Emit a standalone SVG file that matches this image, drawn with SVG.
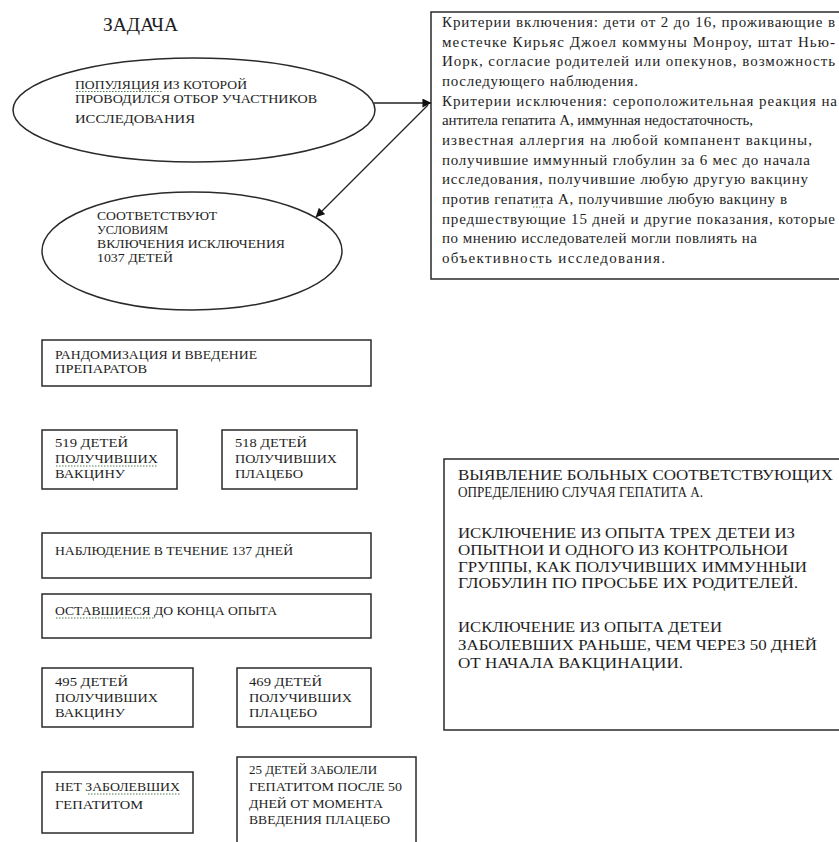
<svg xmlns="http://www.w3.org/2000/svg" width="839" height="842" viewBox="0 0 839 842">
<style>
.bg{fill:#ffffff}
.shape{fill:#ffffff;stroke:#2a2a2a;stroke-width:1.5}
.t{font-family:"Liberation Serif","Times New Roman",serif;fill:#1e1e1e}
.s{font-size:13px}
.m{font-size:15px}
.r{font-size:15px}
.title{font-size:18px}
.conn{stroke:#222222;stroke-width:1.3;fill:none}
.sq{stroke:#4d7d4d;stroke-width:1;stroke-dasharray:1.5 1.5;fill:none}
</style>
<defs>
<marker id="ah" viewBox="0 0 10 10" refX="9.5" refY="5" markerWidth="9" markerHeight="9" markerUnits="userSpaceOnUse" orient="auto">
<path d="M0,0 L10,5 L0,10 Z" fill="#111111"/>
</marker>
</defs>
<rect class="bg" x="0" y="0" width="839" height="842"/>

<text class="t title" x="103" y="31" textLength="75" lengthAdjust="spacingAndGlyphs">ЗАДАЧА</text>

<g id="population">
<ellipse class="shape" cx="194" cy="110" rx="181" ry="52"/>
<text class="t s" style="font-size:12.5px" x="75" y="88.5" textLength="172" lengthAdjust="spacingAndGlyphs">ПОПУЛЯЦИЯ ИЗ КОТОРОЙ</text>
<text class="t s" style="font-size:12.5px" x="75" y="103" textLength="242" lengthAdjust="spacingAndGlyphs">ПРОВОДИЛСЯ ОТБОР УЧАСТНИКОВ</text>
<text class="t s" x="75" y="123" textLength="120" lengthAdjust="spacingAndGlyphs">ИССЛЕДОВАНИЯ</text>
<path class="sq" d="M76,91.5 H162"/>
</g>

<g id="criteria">
<rect class="shape" x="431" y="12" width="420" height="267"/>
<text class="t m" x="442" y="27" textLength="393" lengthAdjust="spacing">Критерии включения: дети от 2 до 16, проживающие в</text>
<text class="t m" x="442" y="46.7" textLength="393" lengthAdjust="spacing">местечке Кирьяс Джоел коммуны Монроу, штат Нью-</text>
<text class="t m" x="442" y="66.3" textLength="393" lengthAdjust="spacing">Иорк, согласие родителей или опекунов, возможность</text>
<text class="t m" x="442" y="86" textLength="196" lengthAdjust="spacing">последующего наблюдения.</text>
<text class="t m" x="442" y="105.7" textLength="395" lengthAdjust="spacing">Критерии исключения: сероположительная реакция на</text>
<text class="t m" x="442" y="125.3" textLength="311" lengthAdjust="spacing">антитела гепатита А, иммунная недостаточность,</text>
<text class="t m" x="442" y="145" textLength="370" lengthAdjust="spacing">известная аллергия на любой компанент вакцины,</text>
<text class="t m" x="442" y="164.7" textLength="368" lengthAdjust="spacing">получившие иммунный глобулин за 6 мес до начала</text>
<text class="t m" x="442" y="184.3" textLength="366" lengthAdjust="spacing">исследования, получившие любую другую вакцину</text>
<text class="t m" x="442" y="204" textLength="345" lengthAdjust="spacing">против гепатита А, получившие любую вакцину в</text>
<text class="t m" x="442" y="223.7" textLength="393" lengthAdjust="spacing">предшествующие 15 дней и другие показания, которые</text>
<text class="t m" x="442" y="243.3" textLength="315" lengthAdjust="spacing">по мнению исследователей могли повлиять на</text>
<text class="t m" x="442" y="263" textLength="223" lengthAdjust="spacing">объективность исследования.</text>
<path class="sq" d="M533,207 H543"/>
</g>

<g id="eligible">
<ellipse class="shape" cx="192" cy="251" rx="150" ry="59"/>
<text class="t s" x="97" y="220" textLength="120" lengthAdjust="spacingAndGlyphs">СООТВЕТСТВУЮТ</text>
<text class="t s" x="97" y="234" textLength="71" lengthAdjust="spacingAndGlyphs">УСЛОВИЯМ</text>
<text class="t s" x="97" y="248" textLength="188" lengthAdjust="spacingAndGlyphs">ВКЛЮЧЕНИЯ ИСКЛЮЧЕНИЯ</text>
<text class="t s" x="97" y="262" textLength="76" lengthAdjust="spacingAndGlyphs">1037 ДЕТЕЙ</text>
</g>

<g id="randomization">
<rect class="shape" x="42" y="340" width="329" height="46"/>
<text class="t s" x="55" y="358.5" textLength="202" lengthAdjust="spacingAndGlyphs">РАНДОМИЗАЦИЯ И ВВЕДЕНИЕ</text>
<text class="t s" x="55" y="372.5" textLength="92" lengthAdjust="spacingAndGlyphs">ПРЕПАРАТОВ</text>
</g>

<g id="vaccine519">
<rect class="shape" x="42" y="430" width="135" height="59"/>
<text class="t s" x="55" y="447" textLength="73" lengthAdjust="spacingAndGlyphs">519 ДЕТЕЙ</text>
<text class="t s" x="55" y="463" textLength="103" lengthAdjust="spacingAndGlyphs">ПОЛУЧИВШИХ</text>
<text class="t s" x="55" y="478" textLength="70" lengthAdjust="spacingAndGlyphs">ВАКЦИНУ</text>
<path class="sq" d="M56,466 H158"/>
</g>

<g id="placebo518">
<rect class="shape" x="222" y="430" width="135" height="59"/>
<text class="t s" x="235" y="447" textLength="72" lengthAdjust="spacingAndGlyphs">518 ДЕТЕЙ</text>
<text class="t s" x="235" y="463" textLength="102" lengthAdjust="spacingAndGlyphs">ПОЛУЧИВШИХ</text>
<text class="t s" x="235" y="478" textLength="68" lengthAdjust="spacingAndGlyphs">ПЛАЦЕБО</text>
</g>

<g id="observation">
<rect class="shape" x="42" y="533" width="329" height="45"/>
<text class="t s" x="55" y="555" textLength="238" lengthAdjust="spacingAndGlyphs">НАБЛЮДЕНИЕ В ТЕЧЕНИЕ 137 ДНЕЙ</text>
</g>

<g id="remaining">
<rect class="shape" x="42" y="594" width="329" height="44"/>
<text class="t s" x="55" y="615" textLength="222" lengthAdjust="spacingAndGlyphs">ОСТАВШИЕСЯ ДО КОНЦА ОПЫТА</text>
<path class="sq" d="M56,618 H155"/>
</g>

<g id="vaccine495">
<rect class="shape" x="42" y="668" width="151" height="59"/>
<text class="t s" x="55" y="686" textLength="73" lengthAdjust="spacingAndGlyphs">495 ДЕТЕЙ</text>
<text class="t s" x="55" y="701.5" textLength="103" lengthAdjust="spacingAndGlyphs">ПОЛУЧИВШИХ</text>
<text class="t s" x="55" y="717" textLength="70" lengthAdjust="spacingAndGlyphs">ВАКЦИНУ</text>
</g>

<g id="placebo469">
<rect class="shape" x="237" y="668" width="134" height="59"/>
<text class="t s" x="249" y="686" textLength="73" lengthAdjust="spacingAndGlyphs">469 ДЕТЕЙ</text>
<text class="t s" x="249" y="701.5" textLength="103" lengthAdjust="spacingAndGlyphs">ПОЛУЧИВШИХ</text>
<text class="t s" x="249" y="717" textLength="68" lengthAdjust="spacingAndGlyphs">ПЛАЦЕБО</text>
</g>

<g id="nocases">
<rect class="shape" x="42" y="772" width="151" height="61"/>
<text class="t s" x="55" y="791" textLength="125" lengthAdjust="spacingAndGlyphs">НЕТ ЗАБОЛЕВШИХ</text>
<text class="t s" x="55" y="809" textLength="88" lengthAdjust="spacingAndGlyphs">ГЕПАТИТОМ</text>
<path class="sq" d="M88,794 H180"/>
</g>

<g id="cases25">
<rect class="shape" x="237" y="757" width="179" height="95"/>
<text class="t s" x="249" y="774" textLength="128" lengthAdjust="spacingAndGlyphs">25 ДЕТЕЙ ЗАБОЛЕЛИ</text>
<text class="t s" x="249" y="791" textLength="153" lengthAdjust="spacingAndGlyphs">ГЕПАТИТОМ ПОСЛЕ 50</text>
<text class="t s" x="249" y="807.5" textLength="134" lengthAdjust="spacingAndGlyphs">ДНЕЙ ОТ МОМЕНТА</text>
<text class="t s" x="249" y="824" textLength="141" lengthAdjust="spacingAndGlyphs">ВВЕДЕНИЯ ПЛАЦЕБО</text>
</g>

<g id="detection">
<rect class="shape" x="444" y="459" width="410" height="271"/>
<text class="t r" x="458" y="480" textLength="375" lengthAdjust="spacingAndGlyphs">ВЫЯВЛЕНИЕ БОЛЬНЫХ СООТВЕТСТВУЮЩИХ</text>
<text class="t r" x="458" y="497" textLength="245" lengthAdjust="spacingAndGlyphs">ОПРЕДЕЛЕНИЮ СЛУЧАЯ ГЕПАТИТА А.</text>
<text class="t r" x="458" y="538" textLength="337" lengthAdjust="spacingAndGlyphs">ИСКЛЮЧЕНИЕ ИЗ ОПЫТА ТРЕХ ДЕТЕИ ИЗ</text>
<text class="t r" x="458" y="555" textLength="330" lengthAdjust="spacingAndGlyphs">ОПЫТНОИ И ОДНОГО ИЗ КОНТРОЛЬНОИ</text>
<text class="t r" x="458" y="572" textLength="349" lengthAdjust="spacingAndGlyphs">ГРУППЫ, КАК ПОЛУЧИВШИХ ИММУННЫИ</text>
<text class="t r" x="458" y="588" textLength="340" lengthAdjust="spacingAndGlyphs">ГЛОБУЛИН ПО ПРОСЬБЕ ИХ РОДИТЕЛЕЙ.</text>
<text class="t r" x="458" y="632" textLength="264" lengthAdjust="spacingAndGlyphs">ИСКЛЮЧЕНИЕ ИЗ ОПЫТА ДЕТЕИ</text>
<text class="t r" x="458" y="650" textLength="359" lengthAdjust="spacingAndGlyphs">ЗАБОЛЕВШИХ РАНЬШЕ, ЧЕМ ЧЕРЕЗ 50 ДНЕЙ</text>
<text class="t r" x="458" y="668" textLength="225" lengthAdjust="spacingAndGlyphs">ОТ НАЧАЛА ВАКЦИНАЦИИ.</text>
</g>

<g id="connectors">
<line class="conn" x1="374" y1="103" x2="431" y2="103" marker-end="url(#ah)"/>
<line class="conn" x1="428" y1="105" x2="316" y2="217" marker-end="url(#ah)"/>
</g>
</svg>
